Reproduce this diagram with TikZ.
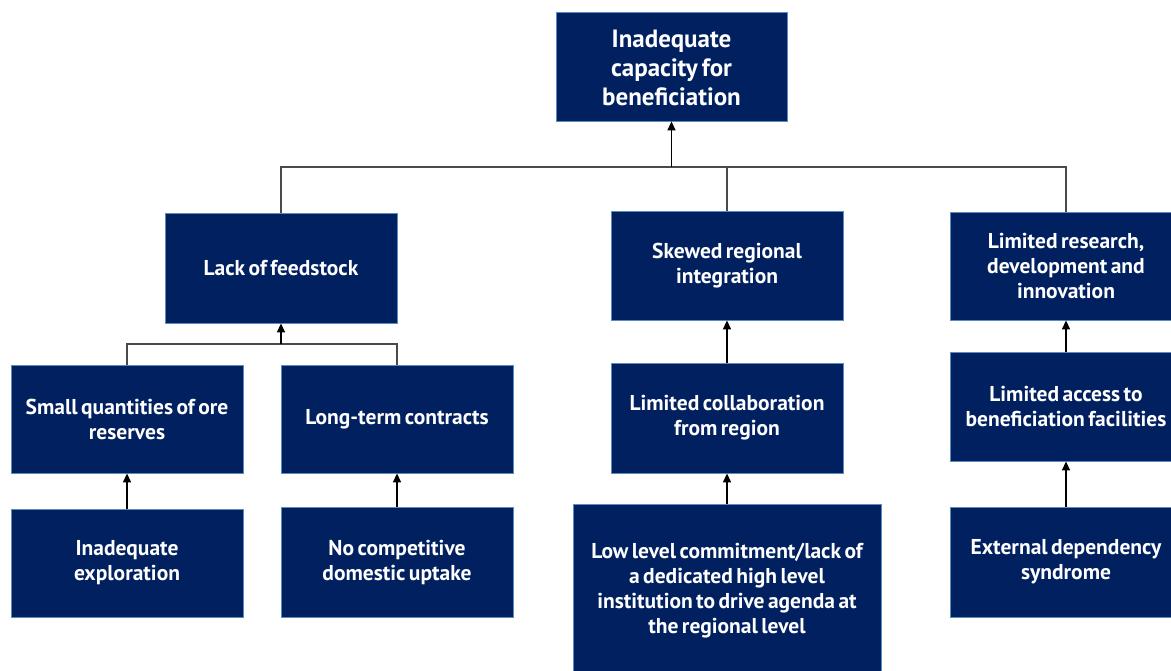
\documentclass[tikz,border=0pt]{standalone}
\usepackage{fontspec}
\setmainfont{PT Sans}
\usetikzlibrary{arrows.meta}
\definecolor{navy}{HTML}{002060}
\definecolor{edgeblue}{HTML}{5B8DC0}
\definecolor{linkgray}{HTML}{4A4A4A}
\newcommand{\tightwords}{\spaceskip=0.16em plus 0.05em minus 0.05em\relax}
\tikzset{
  cbox/.style={draw=edgeblue, line width=0.8pt, fill=navy, text=white,
    font=\bfseries\fontsize{21.5}{25}\selectfont\tightwords, align=center,
    minimum width=232pt, minimum height=109pt, inner sep=0pt},
  link/.style={draw=linkgray, line width=1.1pt},
  up/.style={draw=black, line width=1.4pt, -{Triangle[width=8pt,length=9pt]}}
}
\begin{document}
\begin{tikzpicture}[x=1pt,y=-1pt]
\useasboundingbox (0,0) rectangle (1171,670);
\clip (0,0) rectangle (1171,670);
% top problem
\node[cbox, minimum width=231pt, font=\bfseries\fontsize{25}{29}\selectfont\tightwords] (top) at (671.5,66.5) {\strut Inadequate\\capacity for\\beneficiation};
% second level causes
\node[cbox, minimum height=110pt] (feed) at (281,268) {Lack of feedstock};
\node[cbox] (skew) at (727,265.5) {Skewed regional\\integration};
\node[cbox, minimum height=108pt] (rnd) at (1066,266) {Limited research,\\development and\\innovation};
% third level causes
\node[cbox, minimum height=108pt] (ore) at (127,419) {Small quantities of ore\\reserves};
\node[cbox, minimum height=108pt] (contract) at (397,419) {Long-term contracts};
\node[cbox, minimum height=110pt] (collab) at (727,418) {Limited collaboration\\from region};
\node[cbox, minimum height=109pt] (access) at (1066,406.5) {Limited access to\\beneficiation facilities};
% root causes
\node[cbox, minimum height=108pt] (explore) at (127,563) {Inadequate\\exploration};
\node[cbox, minimum height=110pt] (domestic) at (397,562) {No competitive\\domestic uptake};
\node[cbox, minimum width=308pt, minimum height=174pt] (commit) at (727,591) {Low level commitment/lack of\\a dedicated high level\\institution to drive agenda at\\the regional level};
\node[cbox, minimum height=110pt] (extdep) at (1066,562) {External dependency\\syndrome};
% junction points of the tree connectors
\coordinate (j1) at (671.5,167);
\coordinate (j2) at (281,344);
% links into the top problem
\draw[link] (feed.north) |- (j1) -| (rnd.north);
\draw[link] (skew.north) -- (skew.north |- j1);
\draw[up] (j1) -- (top.south);
% links into lack of feedstock
\draw[link] (ore.north) |- (j2) -| (contract.north);
\draw[up] (j2) -- (feed.south);
% vertical chains
\draw[up] (explore) -- (ore);
\draw[up] (domestic) -- (contract);
\draw[up] (collab) -- (skew);
\draw[up] (commit) -- (collab);
\draw[up] (access) -- (rnd);
\draw[up] (extdep) -- (access);
\end{tikzpicture}
\end{document}
